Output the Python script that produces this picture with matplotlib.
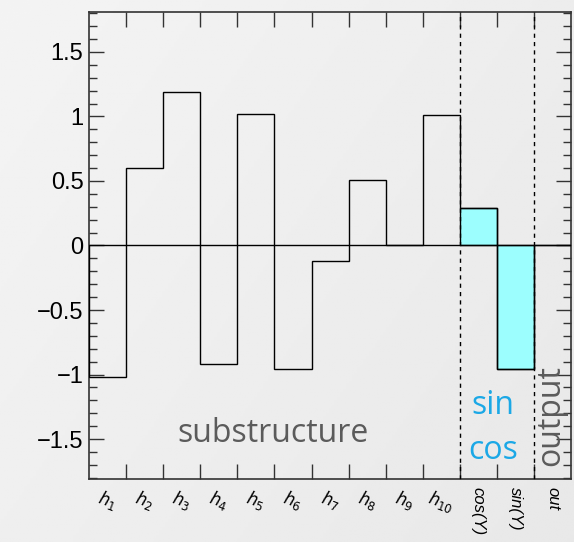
import numpy as np
import matplotlib
matplotlib.use("Agg")
import matplotlib.pyplot as plt

# bin contents (13 bins)
labels = ["$h_{1}$", "$h_{2}$", "$h_{3}$", "$h_{4}$", "$h_{5}$", "$h_{6}$", "$h_{7}$",
          "$h_{8}$", "$h_{9}$", "$h_{10}$", "cos(Y)", "sin(Y)", "out"]
values = [-1.02, 0.60, 1.19, -0.92, 1.02, -0.96, -0.12, 0.51, 0.0, 1.01, 0.29, -0.96, 0.0]
filled = [False] * 10 + [True, True, False]

edges = np.arange(len(values) + 1)

fig = plt.figure(figsize=(5.74, 5.42), dpi=100)

# light grey slide background with a soft gradient
bg = fig.add_axes([0, 0, 1, 1], zorder=-10)
xx, yy = np.meshgrid(np.linspace(0, 1, 200), np.linspace(0, 1, 200))
bg.imshow(0.955 - 0.045 * (xx * 0.6 + yy * 0.4), cmap="gray", vmin=0, vmax=1,
          extent=[0, 1, 0, 1], aspect="auto", origin="upper")
bg.axis("off")

ax = fig.add_axes([0.155, 0.1162, 0.84, 0.8617])
ax.patch.set_alpha(0)

ax.stairs(values, edges, baseline=0, color="black", lw=1.0, zorder=3)
for i, v in enumerate(values):
    if filled[i]:
        ax.bar(i + 0.5, v, width=1, color="#9cfefe", edgecolor="black", lw=1.0, zorder=2)

ax.axhline(0, color="black", lw=1.0, zorder=4)
ax.axvline(10, color="black", lw=1.0, ls=(0, (3, 3)), zorder=4)
ax.axvline(12, color="black", lw=1.0, ls=(0, (3, 3)), zorder=4)

ax.set_xlim(0, 13)
ax.set_ylim(-1.81, 1.81)

ax.set_xticks(edges[1:-1])
ax.set_xticklabels([])
ax.set_xticks(edges[:-1] + 0.5, minor=True)
ax.tick_params(axis="x", which="major", direction="in", length=11, width=1.0,
               top=True, bottom=True, color="#333333")
ax.tick_params(axis="x", which="minor", length=0, pad=6)
ax.set_xticklabels(labels, minor=True, fontsize=12, family="Liberation Sans")
for i, t in enumerate(ax.get_xticklabels(minor=True)):
    if i < 10:
        t.set_rotation(-20)
    else:
        t.set_rotation(-90)
        t.set_style("italic")
        t.set_va("top")

ax.set_yticks(np.arange(-1.5, 1.51, 0.5))
ax.set_yticklabels(["\u22121.5", "\u22121", "\u22120.5", "0", "0.5", "1", "1.5"])
ax.set_yticks(np.arange(-1.8, 1.81, 0.1), minor=True)
ax.tick_params(axis="y", which="major", direction="in", length=11, width=1.0,
               left=True, right=True, labelsize=17, pad=4, color="#333333")
ax.tick_params(axis="y", which="minor", direction="in", length=6, width=1.0,
               left=True, right=True, color="#333333")
for t in ax.get_yticklabels():
    t.set_family("Liberation Sans")

for s in ax.spines.values():
    s.set_color("#333333")
    s.set_linewidth(1.2)

ax.text(4.95, -1.46, "substructure", fontsize=23, color="#5b5b5b",
        family="Open Sans", ha="center", va="center")
ax.text(10.9, -1.24, "sin", fontsize=23, color="#1ba8e6",
        family="Open Sans", ha="center", va="center")
ax.text(10.9, -1.59, "cos", fontsize=23, color="#1ba8e6",
        family="Open Sans", ha="center", va="center")
ax.text(12.45, -1.32, "output", fontsize=23, color="#5b5b5b", rotation=90,
        family="Open Sans", ha="center", va="center")

fig.savefig("out.png", dpi=100)
